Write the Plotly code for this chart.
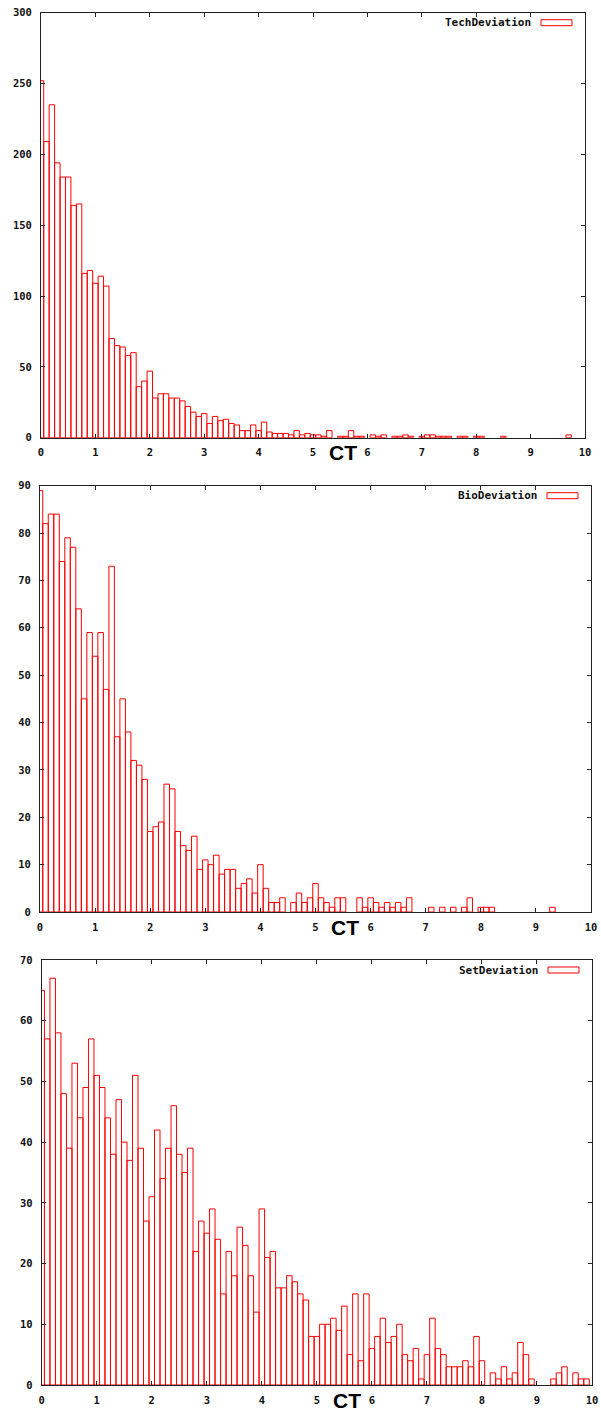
import plotly.graph_objects as go

W, H = 601, 1415

# bin centres (CT, step 0.1)
bin_centers = [round(k * 0.1, 1) for k in range(100)]

tech_counts = [252, 209, 235, 194, 184, 184, 164, 165, 116, 118,
               109, 114, 107, 70, 65, 64, 58, 60, 36, 40,
               47, 28, 31, 31, 28, 28, 26, 22, 18, 15,
               17, 10, 15, 12, 13, 10, 9, 5, 5, 9,
               5, 11, 4, 3, 3, 3, 2, 5, 2, 3,
               2, 2, 1, 5, 0, 1, 1, 5, 1, 1,
               0, 2, 1, 2, 0, 1, 1, 2, 1, 0,
               1, 2, 2, 1, 1, 1, 0, 1, 1, 0,
               1, 1, 0, 0, 0, 1, 0, 0, 0, 0,
               0, 0, 0, 0, 0, 0, 0, 2, 0, 0]

bio_counts = [89, 82, 84, 84, 74, 79, 77, 64, 45, 59,
              54, 59, 47, 73, 37, 45, 38, 32, 31, 28,
              17, 18, 19, 27, 26, 17, 14, 13, 16, 9,
              11, 10, 12, 8, 9, 9, 5, 6, 7, 4,
              10, 5, 2, 2, 3, 0, 2, 4, 2, 3,
              6, 3, 2, 1, 3, 3, 0, 0, 3, 1,
              3, 2, 1, 2, 1, 2, 1, 3, 0, 0,
              0, 1, 0, 1, 0, 1, 0, 1, 3, 0,
              1, 1, 1, 0, 0, 0, 0, 0, 0, 0,
              0, 0, 0, 1, 0, 0, 0, 0, 0, 0]

set_counts = [65, 57, 67, 58, 48, 39, 53, 44, 49, 57,
              51, 49, 44, 38, 47, 40, 37, 51, 39, 27,
              31, 42, 34, 39, 46, 38, 35, 39, 22, 27,
              25, 29, 24, 15, 22, 18, 26, 23, 18, 12,
              29, 21, 22, 16, 16, 18, 17, 15, 14, 8,
              8, 10, 10, 11, 9, 13, 5, 15, 4, 15,
              6, 8, 11, 7, 8, 10, 5, 4, 6, 1,
              5, 11, 6, 5, 3, 3, 3, 4, 3, 8,
              4, 0, 2, 1, 3, 1, 2, 7, 5, 1,
              0, 0, 0, 1, 2, 3, 0, 2, 1, 1]

series_names = ["TechDeviation", "BioDeviation", "SetDeviation"]
y_max = [300, 90, 70]
y_step = [50, 10, 10]
x_ticks = list(range(0, 11))
x_label = "CT"

# panel boxes in pixels: left, right, top, bottom
panels = [(41, 585, 12.7, 437.7),
          (40, 591, 485.7, 912),
          (41.7, 592, 960, 1385)]

tick_font = dict(family="DejaVu Sans Mono", size=10.5, color="#111", weight="bold")

fig = go.Figure()
layout = dict(template="none", width=W, height=H,
              margin=dict(l=0, r=0, t=0, b=0, autoexpand=False),
              paper_bgcolor="white", plot_bgcolor="white", showlegend=False,
              bargap=0, annotations=[], shapes=[])

all_counts = [tech_counts, bio_counts, set_counts]
for i, (counts, name) in enumerate(zip(all_counts, series_names)):
    sfx = "" if i == 0 else str(i + 1)
    xs = [c for c, v in zip(bin_centers, counts) if v > 0]
    ys = [v for v in counts if v > 0]
    fig.add_trace(go.Bar(
        x=xs, y=ys, width=0.1, name=name,
        marker=dict(color="rgba(0,0,0,0)", line=dict(color="#ff0000", width=1)),
        xaxis="x" + sfx, yaxis="y" + sfx, cliponaxis=True))
    l, r, t, b = panels[i]
    common = dict(showline=True, linecolor="#222", linewidth=1, mirror="ticks",
                  ticks="inside", ticklen=4, tickcolor="#222", tickwidth=1,
                  showgrid=False, zeroline=False, tickfont=tick_font,
                  automargin=False, layer="above traces")
    layout["xaxis" + sfx] = dict(domain=[l / W, r / W], anchor="y" + sfx,
                                 range=[0, 10], tickvals=x_ticks,
                                 ticklabelstandoff=5, **common)
    layout["yaxis" + sfx] = dict(domain=[1 - b / H, 1 - t / H], anchor="x" + sfx,
                                 range=[0, y_max[i]],
                                 tickvals=list(range(0, y_max[i] + 1, y_step[i])),
                                 ticklabelstandoff=6, **common)
    # x-axis title "CT"
    layout["annotations"].append(dict(
        text=x_label, xref="paper", yref="paper",
        x=(343 + 2 * i) / W, y=1 - (b + 15) / H, xanchor="center", yanchor="middle",
        showarrow=False, font=dict(family="Liberation Sans", size=21, color="black",
                                   weight="bold")))
    # key (legend) in top-right corner
    box_r = r - 13
    box_l = box_r - 31
    key_y = t + 10
    layout["annotations"].append(dict(
        text=name, xref="paper", yref="paper",
        x=(box_l - 8) / W, y=1 - key_y / H, xanchor="right", yanchor="middle",
        showarrow=False, font=dict(family="DejaVu Sans Mono", size=11, color="#111",
                                   weight="bold")))
    layout["shapes"].append(dict(
        type="rect", xref="paper", yref="paper",
        x0=box_l / W, x1=box_r / W, y0=1 - (key_y + 3) / H, y1=1 - (key_y - 3) / H,
        line=dict(color="#ff0000", width=1), fillcolor="rgba(0,0,0,0)"))

fig.update_layout(**layout)
fig.write_html("out.html",
               config={"displayModeBar": False, "staticPlot": True},
               post_script="document.body.style.margin='0';"
                           "document.body.style.overflow='hidden';")
